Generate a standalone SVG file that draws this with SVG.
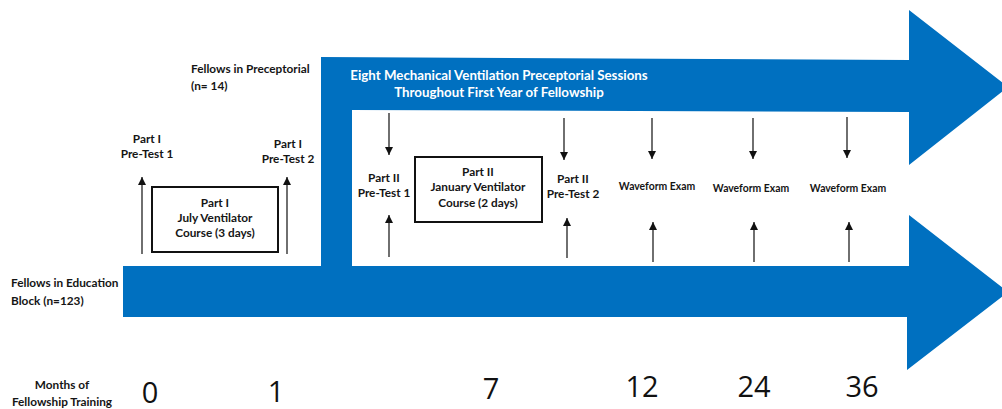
<svg xmlns="http://www.w3.org/2000/svg" width="1002" height="409" viewBox="0 0 1002 409">
<style>
.t{font-family:Lato,"Open Sans","Liberation Sans",sans-serif;font-weight:bold;fill:#151515;font-size:11.8px}
.c{text-anchor:middle}
.w{fill:#ffffff;font-size:13.3px}
.s{font-size:10.4px}
.n{font-family:"Open Sans","Liberation Sans",sans-serif;font-weight:normal;font-size:29px;fill:#111;text-anchor:middle}
.box{fill:#ffffff;stroke:#111;stroke-width:2}
.ar{stroke:#333;stroke-width:1.4;fill:none;marker-end:url(#ah)}
</style>
<defs>
<marker id="ah" viewBox="0 0 10 10" refX="10" refY="5" markerWidth="9" markerHeight="8" markerUnits="userSpaceOnUse" orient="auto">
<path d="M0,0 L10,5 L0,10 z" fill="#111"/>
</marker>
</defs>
<rect width="1002" height="409" fill="#ffffff"/>
<g id="timeline-arrows">
<path d="M123,266 L321,266 L321,57 L909,60 L909,10 L1008,87 L909,165 L909,112 L352,110 L352,266 L909,266 L909,215 L1008,292 L907,370 L907,317 L123,317 Z" fill="#0070C0"/>
</g>
<g id="preceptorial-label">
<text class="t w c" x="499" y="80">Eight Mechanical Ventilation Preceptorial Sessions</text>
<text class="t w c" x="499" y="97">Throughout First Year of Fellowship</text>
</g>
<g id="fellows-preceptorial">
<text class="t" x="191" y="73">Fellows in Preceptorial</text>
<text class="t" x="191" y="90">(n= 14)</text>
</g>
<g id="fellows-education">
<text class="t" x="11" y="287">Fellows in Education</text>
<text class="t" x="11" y="305">Block (n=123)</text>
</g>
<g id="part1-pretest1">
<text class="t c" x="147" y="143">Part I</text>
<text class="t c" x="147" y="158">Pre-Test 1</text>
</g>
<g id="part1-pretest2">
<text class="t c" x="288" y="148">Part I</text>
<text class="t c" x="288" y="163">Pre-Test 2</text>
</g>
<g id="part1-course">
<rect class="box" x="152" y="187" width="126" height="65"/>
<text class="t c" x="215" y="207">Part I</text>
<text class="t c" x="215" y="222">July Ventilator</text>
<text class="t c" x="215" y="237">Course (3 days)</text>
</g>
<g id="part2-pretest1">
<text class="t c" x="384" y="182">Part II</text>
<text class="t c" x="384" y="197">Pre-Test 1</text>
</g>
<g id="part2-course">
<rect class="box" x="415" y="157" width="127" height="65"/>
<text class="t c" x="478" y="176">Part II</text>
<text class="t c" x="478" y="191">January Ventilator</text>
<text class="t c" x="478" y="207">Course (2 days)</text>
</g>
<g id="part2-pretest2">
<text class="t c" x="573" y="183">Part II</text>
<text class="t c" x="573" y="198">Pre-Test 2</text>
</g>
<g id="waveform-12">
<text class="t s c" x="657" y="190">Waveform Exam</text>
</g>
<g id="waveform-24">
<text class="t s c" x="751" y="192">Waveform Exam</text>
</g>
<g id="waveform-36">
<text class="t s c" x="848" y="192">Waveform Exam</text>
</g>
<g id="months-label">
<text class="t c" x="62" y="389">Months of</text>
<text class="t c" x="62" y="406">Fellowship Training</text>
</g>
<g id="months">
<text class="n" x="150" y="403">0</text>
<text class="n" x="276" y="402">1</text>
<text class="n" x="491" y="399">7</text>
<text class="n" x="642" y="397">12</text>
<text class="n" x="754" y="397">24</text>
<text class="n" x="862" y="397">36</text>
</g>
<g id="connectors">
<line class="ar" x1="142" y1="254" x2="142" y2="177"/>
<line class="ar" x1="287" y1="254" x2="287" y2="177"/>
<line class="ar" x1="389" y1="113" x2="389" y2="155"/>
<line class="ar" x1="389" y1="257" x2="389" y2="215"/>
<line class="ar" x1="564" y1="118" x2="564" y2="160"/>
<line class="ar" x1="567" y1="258" x2="567" y2="218"/>
<line class="ar" x1="652" y1="118" x2="652" y2="159"/>
<line class="ar" x1="653" y1="262" x2="653" y2="222"/>
<line class="ar" x1="753" y1="118" x2="753" y2="159"/>
<line class="ar" x1="754" y1="262" x2="754" y2="222"/>
<line class="ar" x1="847" y1="117" x2="847" y2="158"/>
<line class="ar" x1="849" y1="262" x2="849" y2="222"/>
</g>
</svg>
